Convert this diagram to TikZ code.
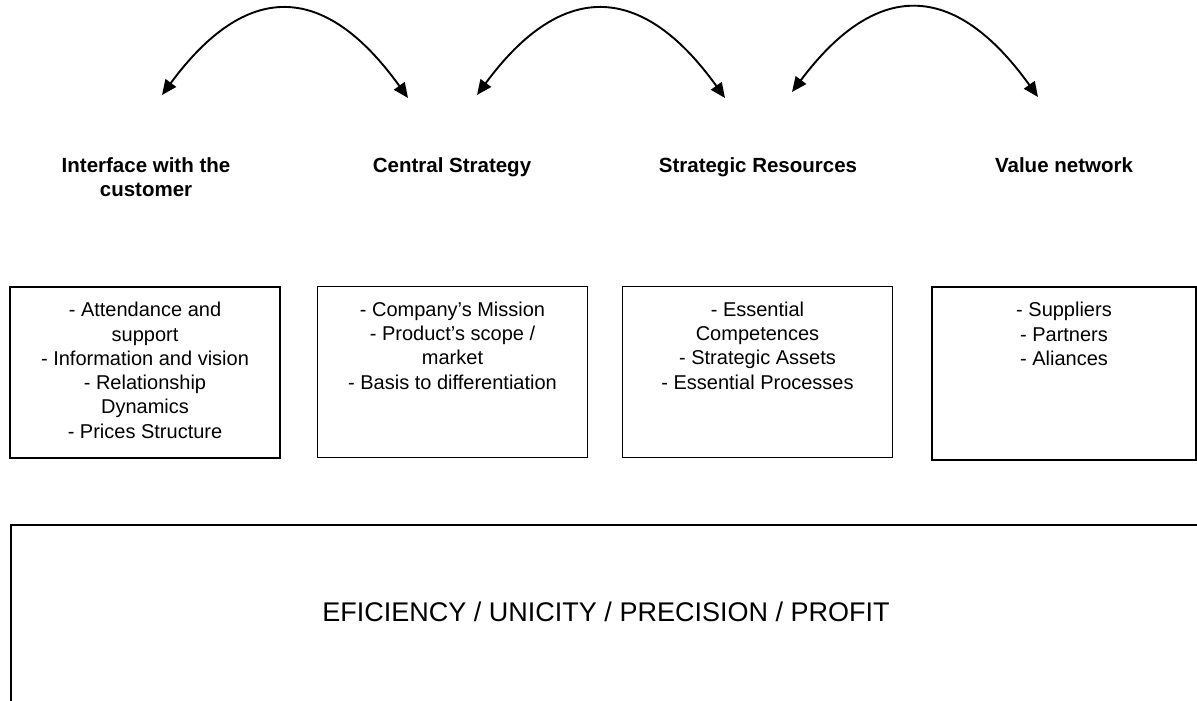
\documentclass[tikz,border=0pt]{standalone}
\usepackage{fontspec}
\setmainfont{Liberation Sans}
\usetikzlibrary{arrows.meta,positioning}

\begin{document}
\begin{tikzpicture}[x=1pt,y=-1pt,
box/.style={draw,line width=1.8pt,minimum width=270pt,minimum height=171pt,inner sep=0pt},
head/.style={font=\fontsize{20.5}{24.5}\selectfont\bfseries,align=center,anchor=north,inner sep=0pt},
item/.style={font=\fontsize{20}{24.3}\selectfont,align=center,anchor=north,inner sep=0pt},
link/.style={{Triangle[length=15pt,width=13pt]}-{Triangle[length=15pt,width=13pt]},line width=1.9pt}]
\clip (0,0) rectangle (1197,701);
\coordinate (a1) at (162,95);
\coordinate (a2) at (408,98);
\coordinate (a3) at (477,95);
\coordinate (a4) at (725,98);
\coordinate (a5) at (792,92);
\coordinate (a6) at (1038,97);
\draw[link] (a1) .. controls +(84,-114) and +(-84,-117) .. (a2);
\draw[link] (a3) .. controls +(84,-114) and +(-84,-117) .. (a4);
\draw[link] (a5) .. controls +(84,-112) and +(-84,-117) .. (a6);
\node[head] (h1) at (146,157) {Interface with the\\customer};
\node[head] (h2) at (452,157) {Central Strategy};
\node[head] (h3) at (758,157) {Strategic Resources};
\node[head] (h4) at (1064,157) {Value network};
\node[box] (b1) at (145,372.5) {};
\node[box] (b2) at (452.5,372) {};
\node[box] (b3) at (757.5,372) {};
\node[box,minimum width=264pt,minimum height=173pt] (b4) at (1064,373.5) {};
\node[item] (t1) at ([yshift=-16pt]b1.north) {- Attendance and\\support\\- Information and vision\\- Relationship\\Dynamics\\- Prices Structure};
\node[item] (t2) at ([yshift=-16pt]b2.north) {- Company’s Mission\\- Product’s scope /\\market\\- Basis to differentiation};
\node[item] (t3) at ([yshift=-16pt]b3.north) {- Essential\\Competences\\- Strategic Assets\\- Essential Processes};
\node[item] (t4) at ([yshift=-16pt]b4.north) {- Suppliers\\- Partners\\- Aliances};
\coordinate (base) at (11,525);
\draw[line width=1.8pt] (base) rectangle +(1230,230);
\node[font=\fontsize{27}{32}\selectfont] (goal) at (606,612) {EFICIENCY / UNICITY / PRECISION / PROFIT};
\end{tikzpicture}
\end{document}
